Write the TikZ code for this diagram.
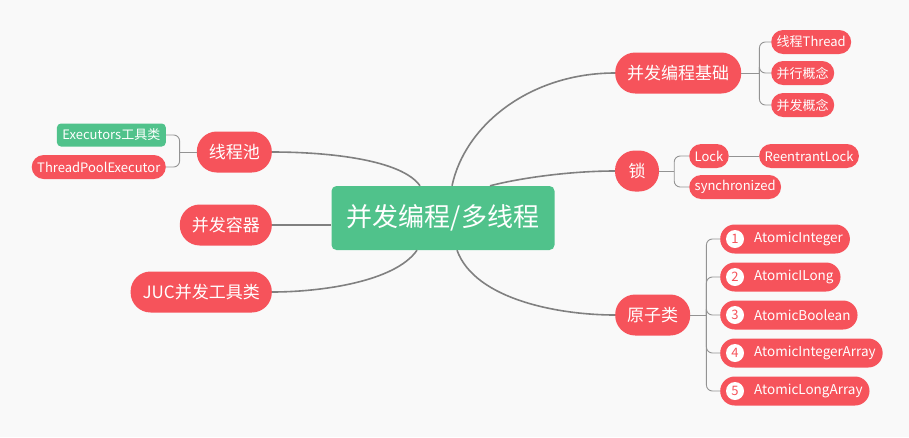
\documentclass[tikz,border=0pt]{standalone}
\usepackage{fontspec}
\newfontfamily\cjk{Noto Sans CJK SC}
\usetikzlibrary{positioning,calc}
\definecolor{pillred}{RGB}{246,83,91}
\definecolor{rootgreen}{RGB}{80,194,139}
\definecolor{linegray}{RGB}{128,128,128}
\definecolor{bggray}{RGB}{249,249,249}
\tikzset{
  basepill/.style={rectangle,fill=pillred,text=white,inner ysep=0pt},
  rootnode/.style={rectangle,rounded corners=5pt,fill=rootgreen,text=white,font=\cjk\fontsize{26}{28}\selectfont,minimum width=223pt,minimum height=64pt},
  topicnode/.style={basepill,rounded corners=20pt,minimum height=41pt,inner xsep=12pt,font=\cjk\fontsize{17}{19}\selectfont},
  subnode/.style={basepill,rounded corners=12pt,minimum height=24pt,inner xsep=5.5pt,font=\cjk\fontsize{13}{15}\selectfont},
  itemnode/.style={basepill,rounded corners=14.5pt,minimum height=29pt,inner xsep=7pt,anchor=west,font=\cjk\fontsize{13.5}{15}\selectfont},
  numnode/.style={circle,fill=white,text=pillred,minimum size=18pt,inner sep=0pt,font=\cjk\fontsize{13}{14}\selectfont},
  mainline/.style={draw=linegray,line width=1.6pt},
  subline/.style={draw=linegray!85,line width=0.9pt,rounded corners=6pt}
}

\begin{document}
\begin{tikzpicture}[x=1pt,y=-1pt]
  \fill[bggray] (0,0) rectangle (909,437);
  \useasboundingbox (0,0) rectangle (909,437);

  %% root
  \node[rootnode] (root) at (443,218) {并发编程/多线程};

  %% left topics
  \node[topicnode,anchor=east] (pool) at (272,152) {线程池};
  \node[topicnode,anchor=east] (container) at (272,225) {并发容器};
  \node[topicnode,anchor=east] (juc) at (272,292) {JUC并发工具类};
  \node[subnode,anchor=east,fill=rootgreen,rounded corners=4pt,minimum height=23pt] (executors) at (166,135) {Executors工具类};
  \node[subnode,anchor=east] (tpe) at (166,167) {ThreadPoolExecutor};

  %% right topics
  \node[topicnode,anchor=west] (basics) at (615,73) {并发编程基础};
  \node[topicnode,minimum width=44pt] (lock) at (637,171) {锁};
  \node[topicnode,anchor=west] (atomic) at (615,315) {原子类};

  \node[subnode,anchor=west] (thread) at (771,42) {线程Thread};
  \node[subnode,anchor=west] (parallel) at (771,73) {并行概念};
  \node[subnode,anchor=west] (concur) at (771,105) {并发概念};
  \node[subnode,anchor=west] (lockif) at (689,156) {Lock};
  \node[subnode,right=30pt of lockif] (reentrant) {ReentrantLock};
  \node[subnode,anchor=west] (sync) at (689,187) {synchronized};

  \foreach \n/\txt in {1/AtomicInteger,2/AtomicILong,3/AtomicBoolean,4/AtomicIntegerArray,5/AtomicLongArray}{
    \node[itemnode] (a\n) at (720,{201+38*\n}) {\hspace*{27pt}\txt};
    \node[numnode] (num\n) at ($(a\n.west)+(15,0)$) {\n};
  }

  %% main branches
  \draw[mainline] ($(root.north)+(-23,0)$) .. controls (402,160) and (330,152) .. (pool.east);
  \draw[mainline] (container.east) -- (container.east -| root.west);
  \draw[mainline] ($(root.south)+(-26,0)$) .. controls (395,282) and (320,292) .. (juc.east);
  \draw[mainline] ($(root.north)+(9,0)$) .. controls (465,125) and (530,73) .. (basics.west);
  \draw[mainline] ($(root.north)+(47,0)$) .. controls (520,178) and (570,171) .. (lock.west);
  \draw[mainline] ($(root.south)+(14,0)$) .. controls (475,300) and (560,315) .. (atomic.west);

  %% sub branches
  \coordinate (pfork) at ($(pool.west)+(-17,0)$);
  \draw[subline] (pool.west) -- (pfork);
  \draw[subline] (pfork) |- (executors.east);
  \draw[subline] (pfork) |- (tpe.east);

  \coordinate (bfork) at ($(basics.east)+(18,0)$);
  \draw[subline] (basics.east) -- (bfork);
  \foreach \c in {thread,parallel,concur}
    \draw[subline] (bfork) |- (\c.west);

  \coordinate (lfork) at ($(lock.east)+(15,0)$);
  \draw[subline] (lock.east) -- (lfork);
  \draw[subline] (lfork) |- (lockif.west);
  \draw[subline] (lfork) |- (sync.west);
  \draw[subline] (lockif) -- (reentrant);

  \coordinate (afork) at ($(atomic.east)+(16,0)$);
  \draw[subline] (atomic.east) -- (afork);
  \foreach \n in {1,...,5}
    \draw[subline] (afork) |- (a\n.west);
\end{tikzpicture}
\end{document}
